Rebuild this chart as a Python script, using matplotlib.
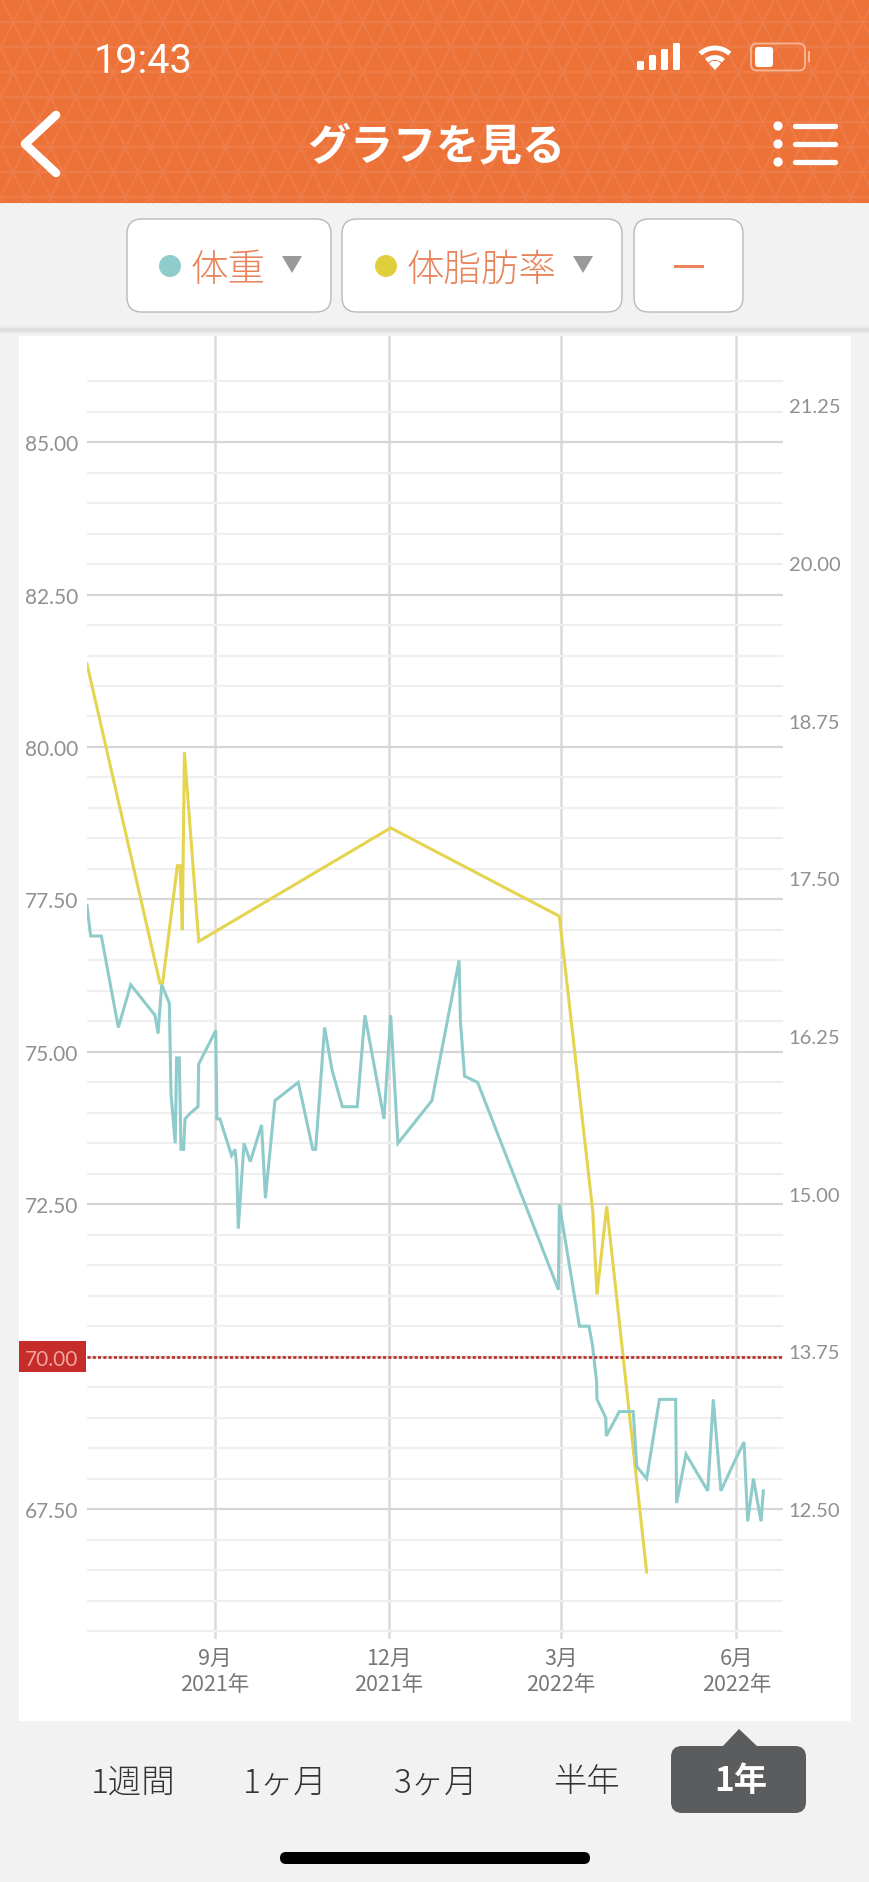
import numpy as np
import matplotlib
matplotlib.use('Agg')
import matplotlib.pyplot as plt
from matplotlib.patches import FancyBboxPatch, Rectangle, Polygon, Circle
from matplotlib.collections import LineCollection

plt.rcParams['font.family'] = ['Noto Sans CJK JP', 'DejaVu Sans']

# days since 2021-06-26, weight in kg
weight_days = [0, 1.9, 7.5, 16.4, 22.9, 35.6, 37.2, 39.1, 43.1, 44, 46.2, 46.9, 48.3, 49.2, 50.6, 51.3,
               54.3, 58.1, 58.5, 67.4, 68, 69.6, 75.7, 77.5, 78.4, 79.2, 82.2, 85.5, 91.4, 93.4, 98.4,
               110.6, 118.2, 119.7, 124.4, 128.3, 133.7, 141.5, 145.5, 155.5, 159, 162.8, 180.6, 194.8,
               195.5, 197.7, 204.5, 246.8, 247.3, 257.8, 262.8, 264.6, 266.8, 267, 271.6, 271.9, 278.7,
               286, 287.8, 293, 299.7, 308.2, 308.7, 313.6, 325, 327.9, 331.9, 339.3, 344, 345.9, 348.9,
               352.9, 354.1]
weight = [77.4, 76.9, 76.9, 75.4, 76.1, 75.6, 75.3, 76.1, 75.8, 74.3, 73.5, 74.9, 74.9, 73.4, 73.4, 73.9,
          74.0, 74.1, 74.8, 75.35, 73.9, 73.9, 73.3, 73.4, 73.1, 72.1, 73.5, 73.2, 73.8, 72.6, 74.2,
          74.5, 73.4, 73.4, 75.4, 74.7, 74.1, 74.1, 75.6, 73.9, 75.6, 73.5, 74.2, 76.5,
          75.5, 74.6, 74.5, 71.1, 72.5, 70.5, 70.5, 70.2, 69.6, 69.3, 69.0, 68.7, 69.1,
          69.1, 68.2, 68.0, 69.3, 69.3, 67.6, 68.4, 67.8, 69.3, 67.8, 68.3, 68.6, 67.3, 68.0,
          67.3, 67.8]

# body fat %
fat_days = [0, 38.2, 39.6, 47.3, 48.7, 49.9, 51, 58.5, 159, 247.3, 264.8, 267, 272.1, 293]
fat = [19.2, 16.67, 16.67, 17.6, 17.6, 17.09, 18.5, 17.0, 17.9, 17.2, 14.86, 14.2, 14.9, 12.0]

month_days = [67, 158, 248, 340]
month_labels = ['9月\n2021年', '12月\n2021年', '3月\n2022年', '6月\n2022年']
left_ticks = [67.5, 70, 72.5, 75, 77.5, 80, 82.5, 85]
left_minor = [65.5, 66, 66.5, 67, 68, 68.5, 69, 69.5, 70.5, 71, 71.5, 72, 73, 73.5, 74, 74.5, 75.5, 76, 76.5, 77,
              78, 78.5, 79, 79.5, 80.5, 81, 81.5, 82, 83, 83.5, 84, 84.5, 85.5, 86]
right_ticks = [12.5, 13.75, 15, 16.25, 17.5, 18.75, 20, 21.25]
range_labels = ['1週間', '1ヶ月', '3ヶ月', '半年']
range_x = [133, 285, 436, 586]

W, H = 870, 1883
fig = plt.figure(figsize=(W / 100, H / 100), dpi=100, facecolor='#F2F2F2')

# screen furniture, drawn in pixel coordinates
bg = fig.add_axes([0, 0, 1, 1], zorder=0)
bg.set_xlim(0, W)
bg.set_ylim(H, 0)
bg.axis('off')

ORANGE = '#EC7238'
PAT = '#EE7C48'
TXT = '#E8835A'
bg.add_patch(Rectangle((0, 0), W, 204, fc=ORANGE, ec='none', zorder=0.2))
segs = []
for k in range(9):
    y0 = -1.7 + 25 * k
    segs.append([(0, y0), (W, y0)])
    off = 13 if k % 2 == 1 else 0.5
    for i in range(-1, 37):
        ax_x = off + 25 * i
        y1 = min(y0 + 25, 204)
        frac = (y1 - y0) / 25
        segs.append([(ax_x, y0), (ax_x + 12.5 * frac, y1)])
        segs.append([(ax_x, y0), (ax_x - 12.5 * frac, y1)])
bg.add_collection(LineCollection(segs, colors=PAT, linewidths=1.6, zorder=0.5))

bg.text(143, 61, '19:43', color='white', fontsize=28.5, family='Roboto', ha='center', va='center')
bg.text(436, 146, 'グラフを見る', color='white', fontsize=31, weight='bold', ha='center', va='center')
bg.plot([56, 25, 56], [116, 145, 174], color='white', lw=6.2, solid_capstyle='round', solid_joinstyle='round')
for yy in [127, 145, 163]:
    bg.add_patch(Circle((778, yy), 4.6, fc='white', ec='none'))
    bg.plot([795, 835], [yy, yy], color='white', lw=3.8, solid_capstyle='round')

# status icons
for xx, top in zip([637, 649, 661, 673], [62, 56, 50, 44]):
    bg.add_patch(FancyBboxPatch((xx, top), 7, 71 - top, boxstyle='round,pad=0,rounding_size=1.5', fc='white', ec='none'))
t = np.radians(np.linspace(-42, 42, 30))
for r in [22, 12.5]:
    bg.plot(715 + r * np.sin(t), 71 - r * np.cos(t), color='white', lw=3.5, solid_capstyle='butt')
bg.add_patch(Polygon([(715, 71), (709, 64.5), (712, 62), (718, 62), (721, 64.5)], fc='white', ec='none'))
bg.add_patch(FancyBboxPatch((751, 44.5), 54, 27, boxstyle='round,pad=0,rounding_size=6', fc='none', ec='#F6B696', lw=1.3))
bg.add_patch(FancyBboxPatch((755, 48), 18, 20, boxstyle='round,pad=0,rounding_size=3', fc='white', ec='none'))
bg.add_patch(Rectangle((808, 52), 2.5, 11, fc='#F6B696', ec='none'))

# selector buttons
bg.add_patch(Rectangle((0, 327), W, 2, fc='#EBEBEB', ec='none'))
bg.add_patch(Rectangle((0, 329), W, 4, fc='#DEDEDE', ec='none'))
bg.add_patch(Rectangle((0, 333), W, 2, fc='#EBEBEB', ec='none'))
for x0, x1 in [(127, 331), (342, 622), (634, 743)]:
    bg.add_patch(FancyBboxPatch((x0, 220), x1 - x0, 93, boxstyle='round,pad=0,rounding_size=15', fc='white', ec='#B9B9B9', lw=1))
bg.add_patch(Circle((170, 267), 11, fc='#8FCDCD', ec='none'))
bg.add_patch(Circle((386, 267), 11, fc='#E0CF3C', ec='none'))
bg.text(227.5, 270, '体重', color=TXT, fontsize=27, ha='center', va='center', weight='light')
bg.text(481, 270, '体脂肪率', color=TXT, fontsize=27, ha='center', va='center', weight='light')
for x0 in [282, 573]:
    bg.add_patch(Polygon([(x0, 257), (x0 + 20, 257), (x0 + 10, 274)], fc='#999999', ec='none'))
bg.add_patch(Rectangle((674, 266), 30, 3, fc=TXT, ec='none'))

# chart card and the red target label
bg.add_patch(Rectangle((19, 337), 832, 1385, fc='white', ec='none'))
bg.add_patch(Rectangle((19, 1342), 67, 31, fc='#C62C29', ec='none'))

# range selector
for lab, xx in zip(range_labels, range_x):
    bg.text(xx, 1783, lab, color='#333333', fontsize=24, ha='center', va='center', weight='light')
bg.add_patch(FancyBboxPatch((671, 1747), 135, 67, boxstyle='round,pad=0,rounding_size=11', fc='#5A5C5E', ec='none'))
bg.add_patch(Polygon([(722, 1748), (739, 1730), (758, 1748)], fc='#5A5C5E', ec='none'))
bg.text(741, 1782, '1年', color='white', fontsize=24, ha='center', va='center', weight='bold')
bg.add_patch(FancyBboxPatch((280, 1853), 310, 12, boxstyle='round,pad=0,rounding_size=6', fc='black', ec='none'))

# chart: grid and left axis
rect = [87 / W, 1 - 1640 / H, 696 / W, (1640 - 337) / H]
ax = fig.add_axes(rect, zorder=1)
ax.patch.set_alpha(0)
ax.set_xlim(0, 364.4)
ax.set_ylim(65.37, 86.74)
for s in ax.spines.values():
    s.set_visible(False)
ax.set_yticks(left_ticks)
ax.set_yticklabels(['%.2f' % v for v in left_ticks], family='Lato', fontsize=15, color='#909090')
ax.set_yticks(left_minor, minor=True)
ax.set_xticks(month_days)
ax.set_xticklabels(month_labels, fontsize=15.5, color='#777777', linespacing=1.2)
ax.tick_params(which='both', length=0)
ax.tick_params(axis='y', pad=6)
ax.tick_params(axis='x', pad=6)
ax.grid(axis='y', which='major', color='#D6D6D6', lw=1.6)
ax.grid(axis='y', which='minor', color='#EFEFEF', lw=1.6)
ax.grid(axis='x', which='major', color='#DADADA', lw=1.8)
ax.set_axisbelow(True)
ax.get_yticklabels()[1].set_color('#F2A5A0')

# body fat on the right axis
ax2 = ax.twinx()
ax2.set_ylim(11.469, 21.80)
for s in ax2.spines.values():
    s.set_visible(False)
ax2.set_yticks(right_ticks)
ax2.set_yticklabels(['%.2f' % v for v in right_ticks], family='Lato', fontsize=14.5, color='#909090')
ax2.tick_params(length=0, pad=4)
ax2.plot(fat_days, fat, color='#E5D450', lw=2.2, solid_joinstyle='miter')

# weight sits above the fat line
ax3 = ax.twinx()
ax3.set_ylim(ax.get_ylim())
ax3.axis('off')
ax3.plot(weight_days, weight, color='#8FCBCB', lw=2.2, solid_joinstyle='miter')
ax3.axhline(70, color='#C0312F', lw=2.0, ls=(0, (1.1, 0.8)))

fig.savefig('out.png', dpi=100, facecolor=fig.get_facecolor())
